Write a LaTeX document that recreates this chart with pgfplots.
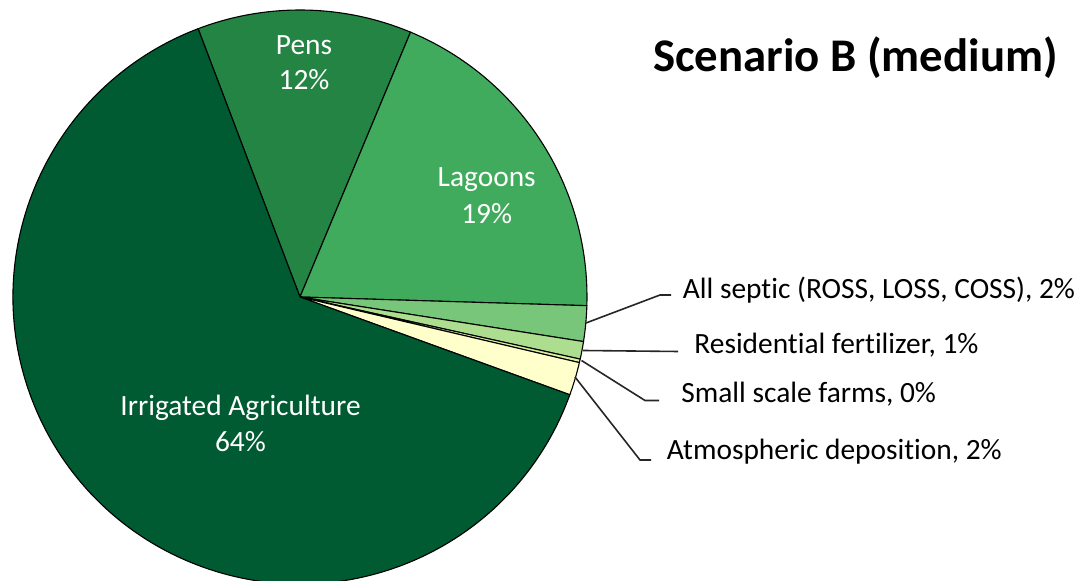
\documentclass[border=0pt]{standalone}
\usepackage{pgfplots}
\pgfplotsset{compat=1.18}
\usepackage{pgfplotstable}
\usepackage{fontspec}
\setmainfont{Carlito}[Ligatures={NoCommon}]
\definecolor{cIrr}{HTML}{005A32}
\definecolor{cPens}{HTML}{238443}
\definecolor{cLag}{HTML}{41AB5D}
\definecolor{cSep}{HTML}{78C679}
\definecolor{cRes}{HTML}{ADDD8E}
\definecolor{cSmall}{HTML}{D9F0A3}
\definecolor{cAtm}{HTML}{FFFFCC}
\definecolor{cLead}{HTML}{262626}

\pgfplotstableread{
label value
Pens 12.07
Lagoons 19.19
Septic 2.00
Residential 0.99
Small 0.20
Atmospheric 1.86
Irrigated 63.69
}\piedata

\newcommand\sector[3]{\filldraw[fill=#3, draw=black, line width=0.55pt, line join=round]
  (axis cs:300,297) -- ++(#1:143.5pt) arc[start angle=#1, end angle=#2, radius=143.5pt] -- cycle;}

\begin{document}
\begin{tikzpicture}
\useasboundingbox (0,0) rectangle (543.5pt,290.5pt);
\def\aA{110.8}
\pgfplotstablegetelem{0}{value}\of\piedata\pgfmathsetmacro\aB{\aA-3.6*\pgfplotsretval}
\pgfplotstablegetelem{1}{value}\of\piedata\pgfmathsetmacro\aC{\aB-3.6*\pgfplotsretval}
\pgfplotstablegetelem{2}{value}\of\piedata\pgfmathsetmacro\aD{\aC-3.6*\pgfplotsretval}
\pgfplotstablegetelem{3}{value}\of\piedata\pgfmathsetmacro\aE{\aD-3.6*\pgfplotsretval}
\pgfplotstablegetelem{4}{value}\of\piedata\pgfmathsetmacro\aF{\aE-3.6*\pgfplotsretval}
\pgfplotstablegetelem{5}{value}\of\piedata\pgfmathsetmacro\aG{\aF-3.6*\pgfplotsretval}
\pgfplotstablegetelem{6}{value}\of\piedata\pgfmathsetmacro\aH{\aG-3.6*\pgfplotsretval}
\begin{axis}[
  scale only axis, width=543.5pt, height=290.5pt,
  xmin=0, xmax=1087, ymin=0, ymax=581, y dir=reverse,
  hide axis, clip=true,
]
\sector{\aA}{\aB}{cPens}
\sector{\aB}{\aC}{cLag}
\sector{\aC}{\aD}{cSep}
\sector{\aD}{\aE}{cRes}
\sector{\aE}{\aF}{cSmall}
\sector{\aF}{\aG}{cAtm}
\sector{\aG}{\aH}{cIrr}
% leader lines
\draw[cLead, line width=0.8pt] (axis cs:586,323) -- (axis cs:660,295) -- (axis cs:671,295);
\draw[cLead, line width=0.8pt] (axis cs:583,350.5) -- (axis cs:678,351.5);
\draw[cLead, line width=0.8pt] (axis cs:581.5,360.5) -- (axis cs:645,400.5) -- (axis cs:659,400.5);
\draw[cLead, line width=0.8pt] (axis cs:575,377) -- (axis cs:640,460) -- (axis cs:651,460);
% inside labels
\begin{scope}[every node/.style={font=\fontsize{14.7}{17.85}\selectfont, text=white, inner sep=0pt, anchor=base}]
\node at (axis cs:304,54.3) {Pens};
\node at (axis cs:304,90) {12\%};
\node at (axis cs:486.7,186.7) {Lagoons};
\node at (axis cs:486.7,223.3) {19\%};
\node at (axis cs:240.5,416) {Irrigated Agriculture};
\node at (axis cs:240.5,451.7) {64\%};
\end{scope}
% outside labels
\begin{scope}[every node/.style={font=\fontsize{14.7}{17.85}\selectfont, text=black, inner sep=0pt, anchor=base west}]
\node at (axis cs:682.5,299) {All septic (ROSS, LOSS, COSS), 2\%};
\node at (axis cs:694,353.3) {Residential fertilizer, 1\%};
\node at (axis cs:681,402.7) {Small scale farms, 0\%};
\node at (axis cs:666.5,459.3) {Atmospheric deposition, 2\%};
\end{scope}
\node[anchor=base, inner sep=0pt, font=\fontsize{23.4}{28}\selectfont\bfseries] at (axis cs:855.5,72) {Scenario B (medium)};
\end{axis}
\end{tikzpicture}
\end{document}
